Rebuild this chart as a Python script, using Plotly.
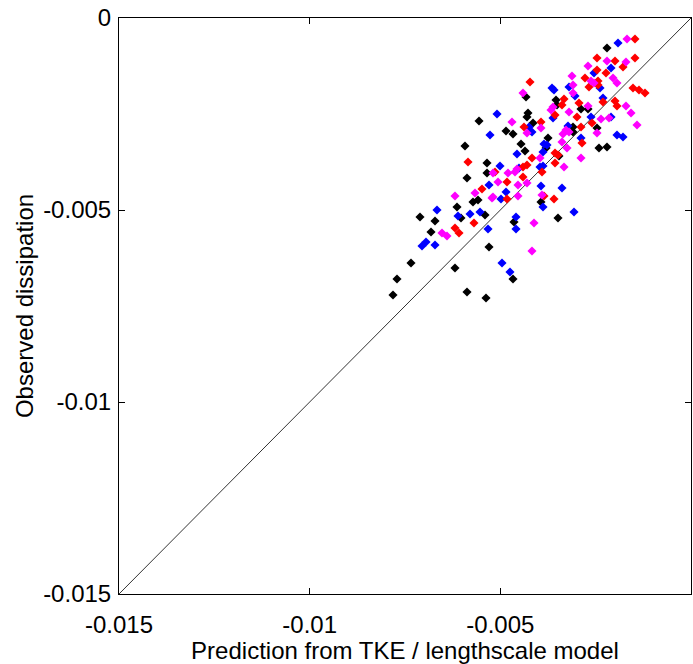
import plotly.graph_objects as go

# values in units of 1e-3
black_x = [-2.203,-4.327,-4.275,-4.301,-5.559,-4.143,-4.851,-4.668,-5.927,-4.458,-4.353,-5.350,-5.350,-5.874,
           -3.540,-3.514,-2.885,-2.701,-3.094,-2.465,-3.094,-3.750,-3.802,-2.413,-2.203,-3.462,-5.717,-5.586,
           -6.136,-7.107,-6.032,-5.402,-6.713,-4.642,-6.818,-5.297,-7.343,-6.189,-4.668,-7.710,-7.815,-5.874,
           -5.376,-3.934,-3.488]
black_y = [-0.781,-2.057,-2.474,-2.578,-2.682,-2.734,-2.943,-3.021,-3.333,-3.281,-3.464,-3.776,-4.036,-4.167,
           -2.135,-2.266,-2.370,-2.370,-2.839,-2.865,-2.969,-3.125,-3.385,-3.385,-3.359,-3.594,-4.792,-4.740,
           -4.922,-5.182,-5.208,-5.130,-5.286,-5.313,-5.573,-5.964,-6.380,-6.510,-6.797,-6.797,-7.214,-7.135,
           -7.292,-4.792,-5.208]

blue_x = [-1.914,-2.098,-2.544,-3.199,-3.645,-3.593,-3.042,-2.386,-2.308,-3.619,-2.098,-2.622,-3.226,-1.941,
          -1.783,-2.885,-3.855,-3.776,-3.881,-3.881,-3.960,-3.934,-3.383,-5.087,-4.248,-5.271,-4.170,-4.563,
          -5.009,-4.511,-5.297,-4.851,-4.983,-6.661,-6.110,-5.795,-5.533,-4.589,-4.589,-5.323,-6.949,-7.054,
          -6.713,-4.956,-4.747,-3.881,-3.068]
blue_y = [-0.651,-1.302,-1.432,-1.797,-1.823,-1.875,-2.031,-1.823,-2.083,-2.604,-2.578,-2.578,-2.813,-3.047,
          -3.099,-3.125,-3.281,-3.307,-3.490,-3.854,-3.880,-4.375,-4.427,-2.500,-2.839,-3.047,-2.969,-3.542,
          -3.854,-3.906,-4.349,-4.531,-4.714,-5.000,-5.156,-5.104,-5.052,-5.182,-5.495,-5.495,-5.833,-5.938,
          -5.911,-6.380,-6.615,-4.922,-5.052]

red_x = [-1.469,-2.465,-1.993,-1.469,-1.783,-2.465,-2.229,-2.780,-2.439,-4.222,-2.439,-2.675,-1.521,-1.364,
         -1.206,-3.330,-2.308,-1.993,-3.383,-2.937,-1.941,-3.566,-2.990,-3.934,-2.596,-2.885,-2.858,-3.566,
         -3.488,-4.170,-3.566,-3.907,-4.379,-5.848,-4.301,-4.406,-5.140,-4.406,-4.825,-5.481,-4.825,-5.691,
         -6.189,-6.084,-3.855,-3.593]
red_y = [-0.547,-1.042,-1.120,-1.042,-1.276,-1.354,-1.432,-1.563,-1.641,-1.667,-1.745,-1.797,-1.823,-1.875,
         -1.953,-2.109,-2.188,-2.161,-2.266,-2.214,-2.292,-2.526,-2.578,-2.708,-2.734,-2.839,-3.255,-3.516,
         -3.568,-3.646,-3.776,-4.010,-2.839,-3.750,-3.828,-3.880,-4.010,-4.141,-4.271,-4.453,-4.714,-5.339,
         -5.469,-5.599,-4.635,-4.714]

magenta_x = [-1.678,-2.203,-1.705,-2.701,-3.121,-2.045,-2.622,-2.544,-3.094,-1.941,-3.094,-3.619,-3.671,-2.701,
             -1.705,-3.199,-1.573,-2.360,-2.150,-3.934,-1.416,-3.278,-3.357,-3.199,-2.465,-3.383,-3.252,-3.960,
             -2.885,-3.330,-4.406,-4.694,-4.301,-4.563,-5.192,-4.799,-4.615,-5.061,-4.537,-4.301,-6.189,-5.664,
             -5.192,-4.537,-4.117,-6.530,-6.399,-4.170,-3.907,-5.219]
magenta_y = [-0.547,-1.120,-1.146,-1.250,-1.510,-1.563,-1.641,-1.693,-1.745,-1.693,-1.953,-2.318,-2.396,-2.292,
             -2.292,-2.448,-2.474,-2.630,-2.604,-2.865,-2.786,-2.917,-3.021,-2.969,-2.995,-3.229,-3.385,-3.646,
             -3.646,-3.880,-1.953,-2.708,-2.995,-3.932,-4.036,-4.036,-4.010,-4.271,-4.349,-4.297,-4.635,-4.557,
             -4.661,-4.635,-5.339,-5.599,-5.677,-6.068,-4.609,-4.688]

line_vals = [-0.015, 0.0]
tick_vals = [-0.015, -0.01, -0.005, 0]
tick_text = ["-0.015", "-0.01", "-0.005", "0"]

scale = 1e-3
series = [
    (black_x, black_y, "#000000"),
    (blue_x, blue_y, "#0000ff"),
    (red_x, red_y, "#ff0000"),
    (magenta_x, magenta_y, "#ff00ff"),
]

fig = go.Figure()
fig.add_trace(go.Scatter(x=line_vals, y=line_vals, mode="lines",
                         line=dict(color="#333333", width=1), showlegend=False))
for xs, ys, c in series:
    fig.add_trace(go.Scatter(x=[v * scale for v in xs], y=[v * scale for v in ys], mode="markers",
                             marker=dict(symbol="diamond", size=7, color=c, line=dict(width=0)),
                             showlegend=False))

font = dict(family="Liberation Sans, Arial, sans-serif", size=24, color="black")
axis_common = dict(range=[-0.015, 0], tickvals=tick_vals, ticktext=tick_text,
                   showline=True, linecolor="black", linewidth=1, mirror="ticks",
                   ticks="inside", ticklen=6, tickcolor="black", showgrid=False,
                   zeroline=False, tickfont=font)

fig.update_layout(
    width=693, height=664,
    margin=dict(l=119, r=2, t=18, b=70),
    paper_bgcolor="white", plot_bgcolor="white",
    xaxis=dict(**axis_common, ticklabelstandoff=9,
               title=dict(text="Prediction from TKE / lengthscale model", font=font, standoff=6)),
    yaxis=dict(**axis_common, ticklabelstandoff=2,
               title=dict(text="Observed dissipation", font=font, standoff=2)),
)
fig.write_html("out.html")
